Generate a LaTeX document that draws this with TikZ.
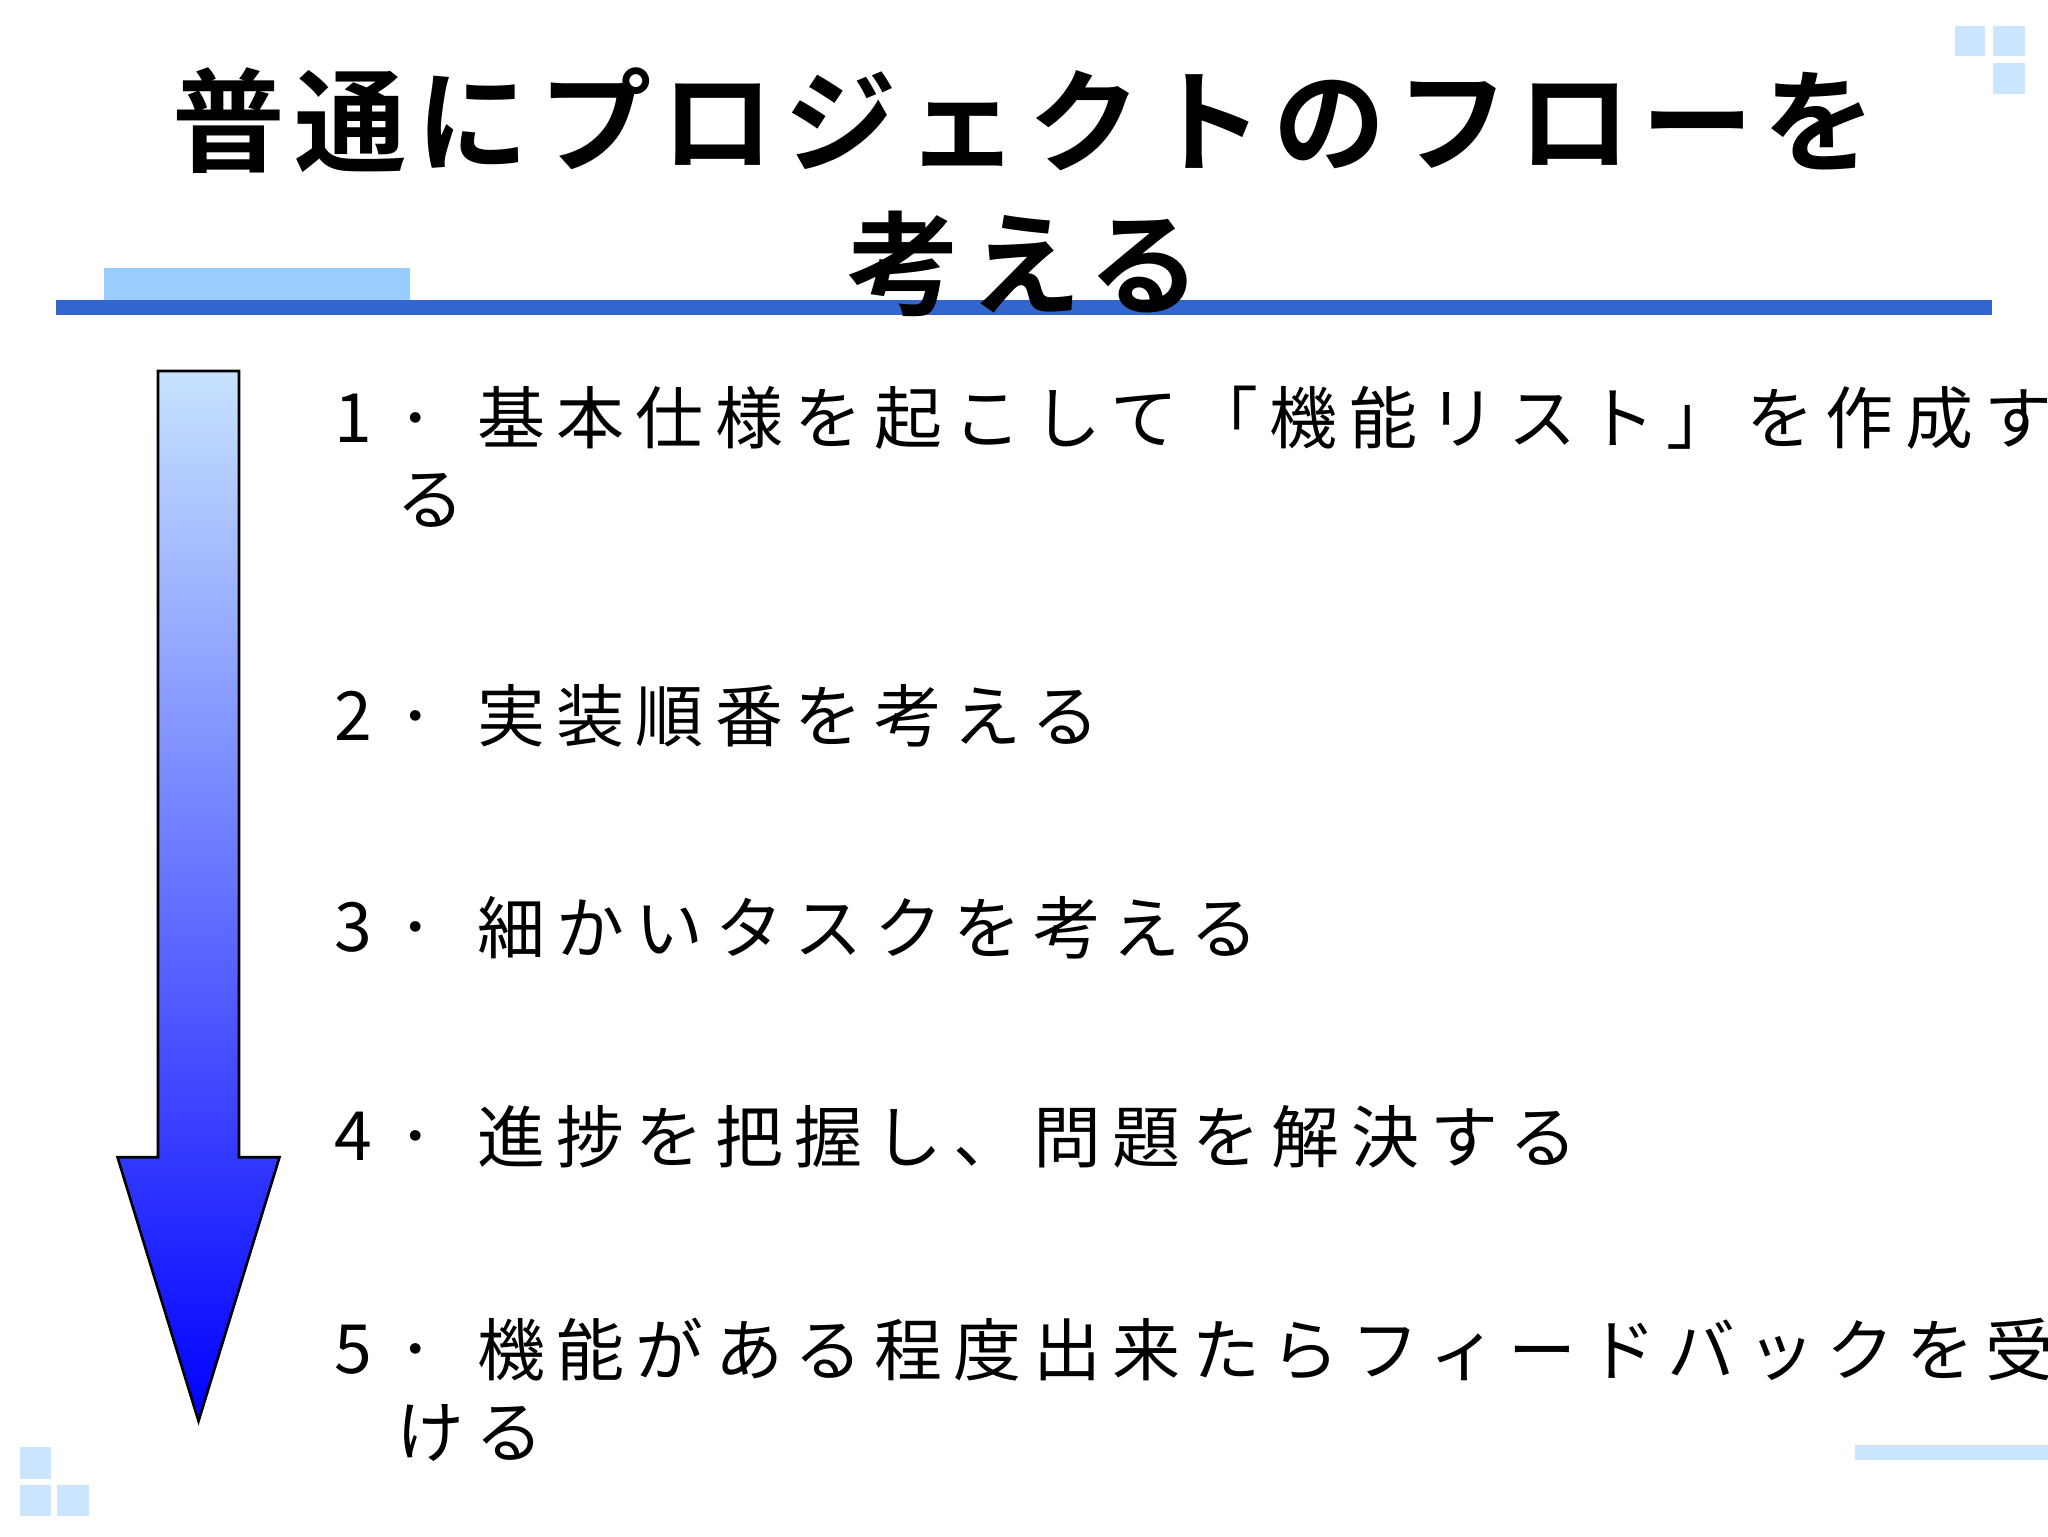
\documentclass[tikz,border=0pt]{standalone}
\usepackage{fontspec}
\newfontfamily\jp[LetterSpace=17]{Noto Sans CJK JP}
\newfontfamily\jpb[LetterSpace=9]{Noto Sans CJK JP Bold}
\definecolor{lb}{HTML}{99CCFF}
\definecolor{sq}{HTML}{CCE5FF}
\definecolor{bl}{HTML}{3366CC}
\tikzset{item/.style={anchor=west,inner sep=0pt,font=\jp\fontsize{52}{62}\selectfont}}
\begin{document}
\begin{tikzpicture}[x=1pt,y=-1pt]
\useasboundingbox (0,0) rectangle (1568,1176);
\clip (0,0) rectangle (1568,1176);
\fill[white] (0,0) rectangle (1568,1176);
% decorations
\fill[sq] (1497,20) rectangle (1520,43);
\fill[sq] (1526,20) rectangle (1550,43);
\fill[sq] (1526,48) rectangle (1550,72);
\fill[sq] (15,1108) rectangle (39,1132);
\fill[sq] (15,1137) rectangle (39,1161);
\fill[sq] (44,1137) rectangle (68,1161);
\fill[sq] (1420,1106) rectangle (1568,1118);
\fill[lb] (80,205) rectangle (314,230);
\fill[bl] (43,230) rectangle (1525,241);
% title
\node[inner sep=0pt,font=\jpb\fontsize{86}{100}\selectfont] (t1) at (784,92) {普通にプロジェクトのフローを};
\node[inner sep=0pt,font=\jpb\fontsize{86}{100}\selectfont] (t2) at (784,202) {考える};
% arrow
\shade[top color=sq!90!lb, bottom color=blue, draw=black, line width=2pt]
 (121,284) -- (183,284) -- (183,886) -- (214,886) -- (152,1088) -- (90,886) -- (121,886) -- cycle;
% items
\foreach \n/\y in {1/320,2/548,3/710,4/870,5/1033}{
  \node[item] (n\n) at (256,\y) {\n};
  \node[item] (d\n) at (306,\y) {．};
}
\node[item] (i1) at (365,320) {基本仕様を起こして「機能リスト」を作成す};
\node[item] (i1b) at (303,383) {る};
\node[item] (i2) at (365,548) {実装順番を考える};
\node[item] (i3) at (365,710) {細かいタスクを考える};
\node[item] (i4) at (365,870) {進捗を把握し、問題を解決する};
\node[item] (i5) at (365,1033) {機能がある程度出来たらフィードバックを受};
\node[item] (i5b) at (303,1097) {ける};
\end{tikzpicture}
\end{document}
